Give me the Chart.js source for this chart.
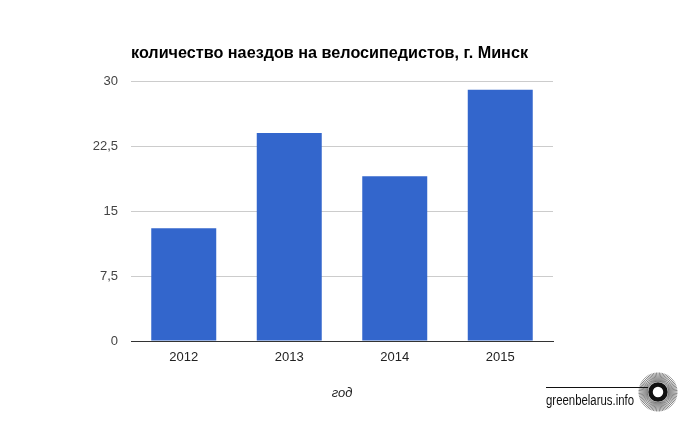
<!DOCTYPE html>
<html>
<head>
<meta charset="utf-8">
<script src="https://cdn.jsdelivr.net/npm/chart.js@4"></script>
<style>
    html, body { margin: 0; padding: 0; background: #fff; }
    #wrap { width: 684px; height: 423px; position: relative; }
</style>
</head>
<body>
<div id="wrap"><canvas id="chart"></canvas></div>
<script>
const TITLE = "количество наездов на велосипедистов, г. Минск";
const X_TITLE = "год";
const YEARS = ["2012", "2013", "2014", "2015"];
const COUNTS = [13, 24, 19, 29];
const Y_TICKS = [0, 7.5, 15, 22.5, 30];
const MARK = "greenbelarus.info";

const FONT = "'Liberation Sans', Arial, sans-serif";

// title + watermark drawn on top of the canvas
const extras = {
    id: "extras",
    afterDraw(chart) {
        const ctx = chart.ctx;
        ctx.save();
        ctx.fillStyle = "#000";
        ctx.font = "bold 16.2px " + FONT;
        ctx.textBaseline = "alphabetic";
        ctx.textAlign = "left";
        ctx.fillText(TITLE, 131, 58);

        // greenbelarus.info mark, squeezed to the narrow look of the original
        ctx.font = "14px " + FONT;
        ctx.fillStyle = "#111";
        const w = ctx.measureText(MARK).width;
        ctx.save();
        ctx.translate(546, 405);
        ctx.scale(88 / w, 1);
        ctx.fillText(MARK, 0, 0);
        ctx.restore();

        ctx.strokeStyle = "#111";
        ctx.lineWidth = 1.2;
        ctx.beginPath();
        ctx.moveTo(546, 387.5);
        ctx.lineTo(648, 387.5);
        ctx.stroke();

        const cx = 658, cy = 392;
        ctx.lineWidth = 0.5;
        for (let i = 0; i < 80; i++) {
            const a = (i / 80) * Math.PI * 2;
            ctx.beginPath();
            ctx.moveTo(cx + Math.cos(a) * 10, cy + Math.sin(a) * 10);
            ctx.lineTo(cx + Math.cos(a) * 19.5, cy + Math.sin(a) * 19.5);
            ctx.stroke();
        }
        ctx.lineWidth = 4.5;
        ctx.beginPath();
        ctx.arc(cx, cy, 7.5, 0, Math.PI * 2);
        ctx.stroke();
        ctx.restore();
    },
};

new Chart(document.getElementById("chart"), {
    type: "bar",
    data: {
        labels: YEARS,
        datasets: [{
            data: COUNTS,
            backgroundColor: "#3366cc",
            categoryPercentage: 1,
            barPercentage: 0.616,
        }],
    },
    options: {
        responsive: true,
        maintainAspectRatio: false,
        animation: false,
        layout: { padding: { left: 0, top: 81, right: 131, bottom: 0 } },
        plugins: { legend: { display: false }, tooltip: { enabled: false } },
        scales: {
            x: {
                grid: { display: false, drawTicks: false },
                border: { color: "#333", width: 1 },
                ticks: { color: "#222", font: { family: FONT, size: 13 }, padding: 9 },
                title: {
                    display: true,
                    text: X_TITLE,
                    color: "#222",
                    font: { family: FONT, size: 13, style: "italic" },
                    padding: { top: 0, bottom: 22 },
                },
                afterFit: (scale) => { scale.height = 82; },
            },
            y: {
                min: 0,
                max: 30,
                afterBuildTicks: (scale) => {
                    scale.ticks = Y_TICKS.map((v) => ({ value: v }));
                },
                ticks: {
                    color: "#444",
                    font: { family: FONT, size: 13 },
                    padding: 13,
                    callback: (v) => String(v).replace(".", ","),
                },
                grid: {
                    drawTicks: false,
                    color: (c) => (c.tick && c.tick.value === 0 ? "#333" : "#cccccc"),
                },
                border: { display: false },
                afterFit: (scale) => { scale.width = 131; },
            },
        },
    },
    plugins: [extras],
});
</script>
</body>
</html>
